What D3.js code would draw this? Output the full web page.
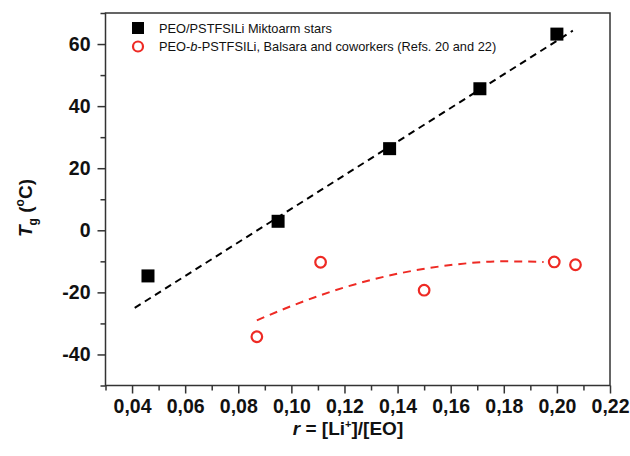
<!DOCTYPE html>
<html>
<head>
<meta charset="utf-8">
<style>
    body { margin: 0; background: #fff; }
    svg text { font-family: "Liberation Sans", Arial, sans-serif; fill: #111; }
    .axis text { font-size: 19.5px; font-weight: bold; }
    .legend text { font-size: 12.8px; }
</style>
</head>
<body>
<svg width="630" height="456"></svg>
<script src="https://cdn.jsdelivr.net/npm/d3@7"></script>
<script>
    // miktoarm stars (filled squares)
    const starR  = [0.046, 0.095, 0.137, 0.171, 0.200];
    const starTg = [-14.7, 2.9, 26.3, 45.6, 63.2];
    // Balsara block copolymers (open circles)
    const blockR  = [0.087, 0.111, 0.150, 0.199, 0.207];
    const blockTg = [-34.3, -10.3, -19.3, -10.2, -11.1];
    // dashed guide lines
    const starFitR  = [0.041, 0.206];
    const starFitTg = [-25, 64.3];
    const blockFitR  = [0.087, 0.100, 0.120, 0.140, 0.160, 0.180, 0.195];
    const blockFitTg = [-29, -24.4, -18.4, -14.0, -11.2, -10.0, -10.2];

    const xTicks = [0.04, 0.06, 0.08, 0.10, 0.12, 0.14, 0.16, 0.18, 0.20, 0.22];
    const xTickLabels = ["0,04", "0,06", "0,08", "0,10", "0,12", "0,14", "0,16", "0,18", "0,20", "0,22"];
    const xMinor = [0.03, 0.05, 0.07, 0.09, 0.11, 0.13, 0.15, 0.17, 0.19, 0.21];
    const yTicks = [-40, -20, 0, 20, 40, 60];
    const yMinor = [-50, -30, -10, 10, 30, 50, 70];
    const legendLabels = ["PEO/PSTFSILi Miktoarm stars", "PEO-b-PSTFSILi, Balsara and coworkers (Refs. 20 and 22)"];

    const red = "#ee2a24";

    var svg = d3.select("svg");
    const margin = { left: 105.5, right: 20, top: 13, bottom: 70.5 };
    const width = +svg.attr("width"), height = +svg.attr("height");

    const x = d3.scaleLinear().domain([0.03, 0.22]).range([margin.left, width - margin.right]);
    const y = d3.scaleLinear().domain([-50, 70]).range([height - margin.bottom, margin.top]);

    // frame
    svg.append("rect")
        .attr("x", x(0.03)).attr("y", y(70))
        .attr("width", x(0.22) - x(0.03)).attr("height", y(-50) - y(70))
        .attr("fill", "none").attr("stroke", "#333").attr("stroke-width", 1.5);

    // x axis
    svg.append("g").attr("class", "axis")
        .attr("transform", `translate(0,${y(-50)})`)
        .call(d3.axisBottom(x).tickValues(xTicks).tickSize(8).tickPadding(6)
            .tickFormat((d, i) => xTickLabels[i]));
    svg.append("g").attr("transform", `translate(0,${y(-50)})`)
        .call(d3.axisBottom(x).tickValues(xMinor).tickSize(5).tickFormat(""));

    // y axis (plain hyphen for negatives, like the original)
    svg.append("g").attr("class", "axis")
        .attr("transform", `translate(${x(0.03)},0)`)
        .call(d3.axisLeft(y).tickValues(yTicks).tickSize(8).tickPadding(7)
            .tickFormat(d => String(d)));
    svg.append("g").attr("transform", `translate(${x(0.03)},0)`)
        .call(d3.axisLeft(y).tickValues(yMinor).tickSize(5).tickFormat(""));

    svg.selectAll(".domain").remove();
    svg.selectAll(".tick line").attr("stroke", "#333").attr("stroke-width", 1.5);

    // axis titles
    const xt = svg.append("text")
        .attr("x", 348).attr("y", 435)
        .attr("text-anchor", "middle")
        .style("font-size", "19px").style("font-weight", "bold");
    xt.append("tspan").style("font-style", "italic").text("r");
    xt.append("tspan").text(" = [Li");
    xt.append("tspan").attr("dy", -7).style("font-size", "11px").text("+");
    xt.append("tspan").attr("dy", 7).text("]/[EO]");

    const yt = svg.append("text")
        .attr("transform", "translate(32,208) rotate(-90)")
        .attr("text-anchor", "middle")
        .style("font-size", "19px").style("font-weight", "bold");
    yt.append("tspan").style("font-style", "italic").text("T");
    yt.append("tspan").attr("dy", 5).style("font-size", "12px").text("g");
    yt.append("tspan").attr("dy", -5).text(" (");
    yt.append("tspan").attr("dy", -8).style("font-size", "12px").text("o");
    yt.append("tspan").attr("dy", 8).text("C)");

    // fit lines
    const line = d3.line().x(d => x(d[0])).y(d => y(d[1]));
    svg.append("path")
        .datum(d3.zip(starFitR, starFitTg))
        .attr("d", line)
        .attr("fill", "none").attr("stroke", "#000").attr("stroke-width", 2)
        .attr("stroke-dasharray", "7,5");
    svg.append("path")
        .datum(d3.zip(blockFitR, blockFitTg))
        .attr("d", line.curve(d3.curveMonotoneX))
        .attr("fill", "none").attr("stroke", red).attr("stroke-width", 2)
        .attr("stroke-dasharray", "8,6");

    // markers
    const sq = 13;
    svg.append("g").selectAll("rect")
        .data(d3.zip(starR, starTg))
        .enter().append("rect")
        .attr("x", d => x(d[0]) - sq / 2).attr("y", d => y(d[1]) - sq / 2)
        .attr("width", sq).attr("height", sq)
        .attr("fill", "#000");

    svg.append("g").selectAll("circle")
        .data(d3.zip(blockR, blockTg))
        .enter().append("circle")
        .attr("cx", d => x(d[0])).attr("cy", d => y(d[1]))
        .attr("r", 5.3)
        .attr("fill", "none").attr("stroke", red).attr("stroke-width", 2.2);

    // legend
    const lg = svg.append("g").attr("class", "legend");
    lg.append("rect").attr("x", 132).attr("y", 22).attr("width", 12).attr("height", 12).attr("fill", "#000");
    lg.append("text").attr("x", 159).attr("y", 33).text(legendLabels[0]);
    lg.append("circle").attr("cx", 138).attr("cy", 46.5).attr("r", 5).attr("fill", "none")
        .attr("stroke", red).attr("stroke-width", 2.2);
    const l2 = lg.append("text").attr("x", 159).attr("y", 51);
    const parts = legendLabels[1].split("-b-");
    l2.append("tspan").text(parts[0] + "-");
    l2.append("tspan").style("font-style", "italic").text("b");
    l2.append("tspan").text("-" + parts[1]);
</script>
</body>
</html>
